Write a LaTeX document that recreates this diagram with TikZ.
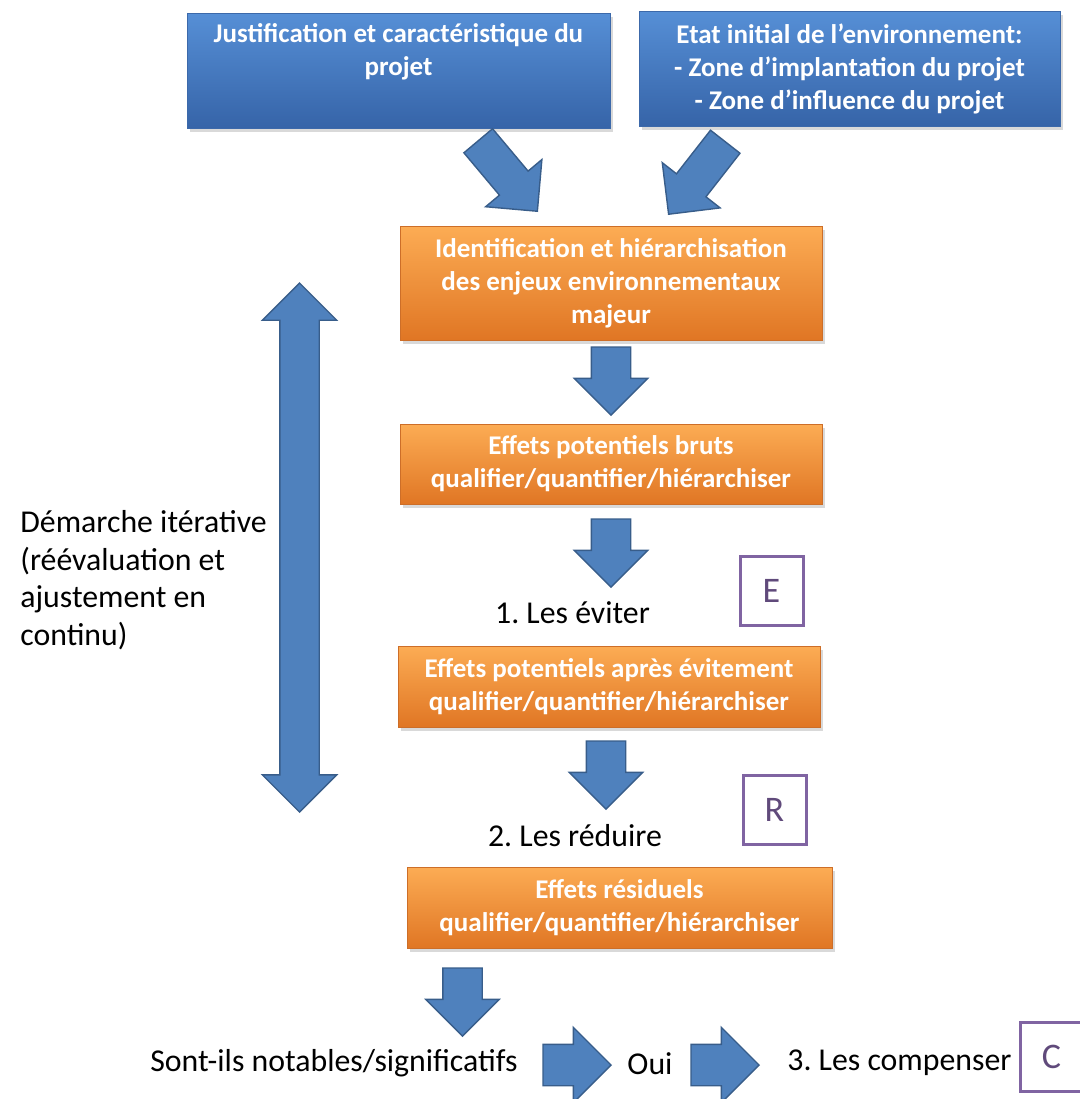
\documentclass[tikz,border=0pt]{standalone}
\usepackage{fontspec}
\setmainfont{Carlito}
\usetikzlibrary{shapes.arrows,shadows,positioning}

\definecolor{bluetop}{RGB}{86,143,214}
\definecolor{bluebot}{RGB}{54,100,168}
\definecolor{blueline}{RGB}{60,105,170}
\definecolor{orangetop}{RGB}{252,172,84}
\definecolor{orangebot}{RGB}{224,118,36}
\definecolor{orangeline}{RGB}{205,110,40}
\definecolor{arrowfill}{RGB}{79,129,189}
\definecolor{arrowline}{RGB}{56,93,138}
\definecolor{letterline}{RGB}{128,100,162}
\definecolor{lettertext}{RGB}{96,74,123}

\newcommand{\boxfont}{\fontsize{13.5pt}{16.5pt}\selectfont\bfseries}
\newcommand{\labelfont}{\fontsize{15.9pt}{18.75pt}\selectfont}
\frenchspacing

\begin{document}
\begin{tikzpicture}[x=0.5pt,y=-0.5pt,
    box/.style={rectangle, line width=0.5pt, text=white, font=\boxfont,
      align=center, inner sep=0pt,
      drop shadow={shadow xshift=1.5pt,shadow yshift=-2pt,opacity=0.3}},
    bluebox/.style={box, top color=bluetop, bottom color=bluebot, draw=blueline},
    orangebox/.style={box, top color=orangetop, bottom color=orangebot, draw=orangeline},
    blockarrow/.style={single arrow, draw=arrowline, fill=arrowfill, line width=0.7pt,
      minimum height=34pt, minimum width=36pt, inner xsep=0pt, inner ysep=9.5pt,
      single arrow head extend=8.5pt, anchor=tip},
    lettbox/.style={draw=letterline, line width=1.5pt, minimum width=31.5pt,
      minimum height=34.5pt, text=lettertext, font=\fontsize{18pt}{20pt}\selectfont},
    plain/.style={font=\labelfont, text=black, inner sep=0pt}]
  \useasboundingbox (0,0) rectangle (1080,1099);

  % boites du haut
  \node[bluebox, minimum width=211.5pt, minimum height=57.5pt] (just) at (398.5,70.5)
    {Justification et caractéristique du\\projet\\\strut};
  \node[bluebox, minimum width=210.5pt, minimum height=57.5pt] (etat) at (849.5,68.5)
    {Etat initial de l’environnement:\\- Zone d’implantation du projet\\- Zone d’influence du projet};

  \node[blockarrow, minimum height=46pt, inner ysep=9pt, single arrow head extend=9pt,
    rotate=-50] (fjust) at (538,212) {};
  \node[blockarrow, minimum height=46pt, inner ysep=9pt, single arrow head extend=9pt,
    rotate=-128] (fetat) at (668,215) {};

  % chaine centrale
  \node[orangebox, minimum width=211pt, minimum height=57pt] (ident) at (611,283)
    {Identification et hiérarchisation\\des enjeux environnementaux\\majeur};
  \node[blockarrow, rotate=-90] (f1) at (611,416) {};
  \node[orangebox, minimum width=211pt, minimum height=40pt] (bruts) at (611,464)
    {Effets potentiels bruts\\qualifier/quantifier/hiérarchiser};
  \node[blockarrow, rotate=-90] (f2) at (611,588) {};
  \node[plain] (eviter) at (572.5,613) {1. Les éviter};
  \node[lettbox] (E) at (771.5,590.5) {E};
  \node[orangebox, minimum width=211pt, minimum height=40.5pt] (apres) at (609,686.5)
    {Effets potentiels après évitement\\qualifier/quantifier/hiérarchiser};
  \node[blockarrow, rotate=-90] (f3) at (606,810) {};
  \node[lettbox] (R) at (774.5,809.5) {R};
  \node[plain] (reduire) at (575,836) {2. Les réduire};
  \node[orangebox, minimum width=212.5pt, minimum height=40.5pt] (resid) at (619.5,907.5)
    {Effets résiduels\\qualifier/quantifier/hiérarchiser};
  \node[blockarrow, rotate=-90] (f4) at (462.5,1037) {};

  % ligne du bas
  \node[plain] (notab) at (334,1063) {Sont-ils notables/significatifs};
  \node[blockarrow, inner ysep=10pt, minimum width=37pt] (f5) at (612,1065) {};
  \node[plain] (oui) at (650,1064) {Oui};
  \node[blockarrow, inner ysep=10pt, minimum width=37pt] (f6) at (760,1065) {};
  \node[plain, anchor=west] (comp) at (787,1063) {3. Les compenser};
  \node[lettbox] (C) at (1051.5,1056.5) {C};

  % demarche iterative
  \node[double arrow, draw=arrowline, fill=arrowfill, line width=0.7pt,
    minimum height=264.5pt, minimum width=36.5pt, inner xsep=0pt, inner ysep=9.5pt,
    double arrow head extend=8.75pt, rotate=90] (iter) at (299.5,547.5) {};
  \node[plain, anchor=west, align=left] (demarche) at (20,580)
    {Démarche itérative\\(réévaluation et\\ajustement en\\continu)};
\end{tikzpicture}
\end{document}
